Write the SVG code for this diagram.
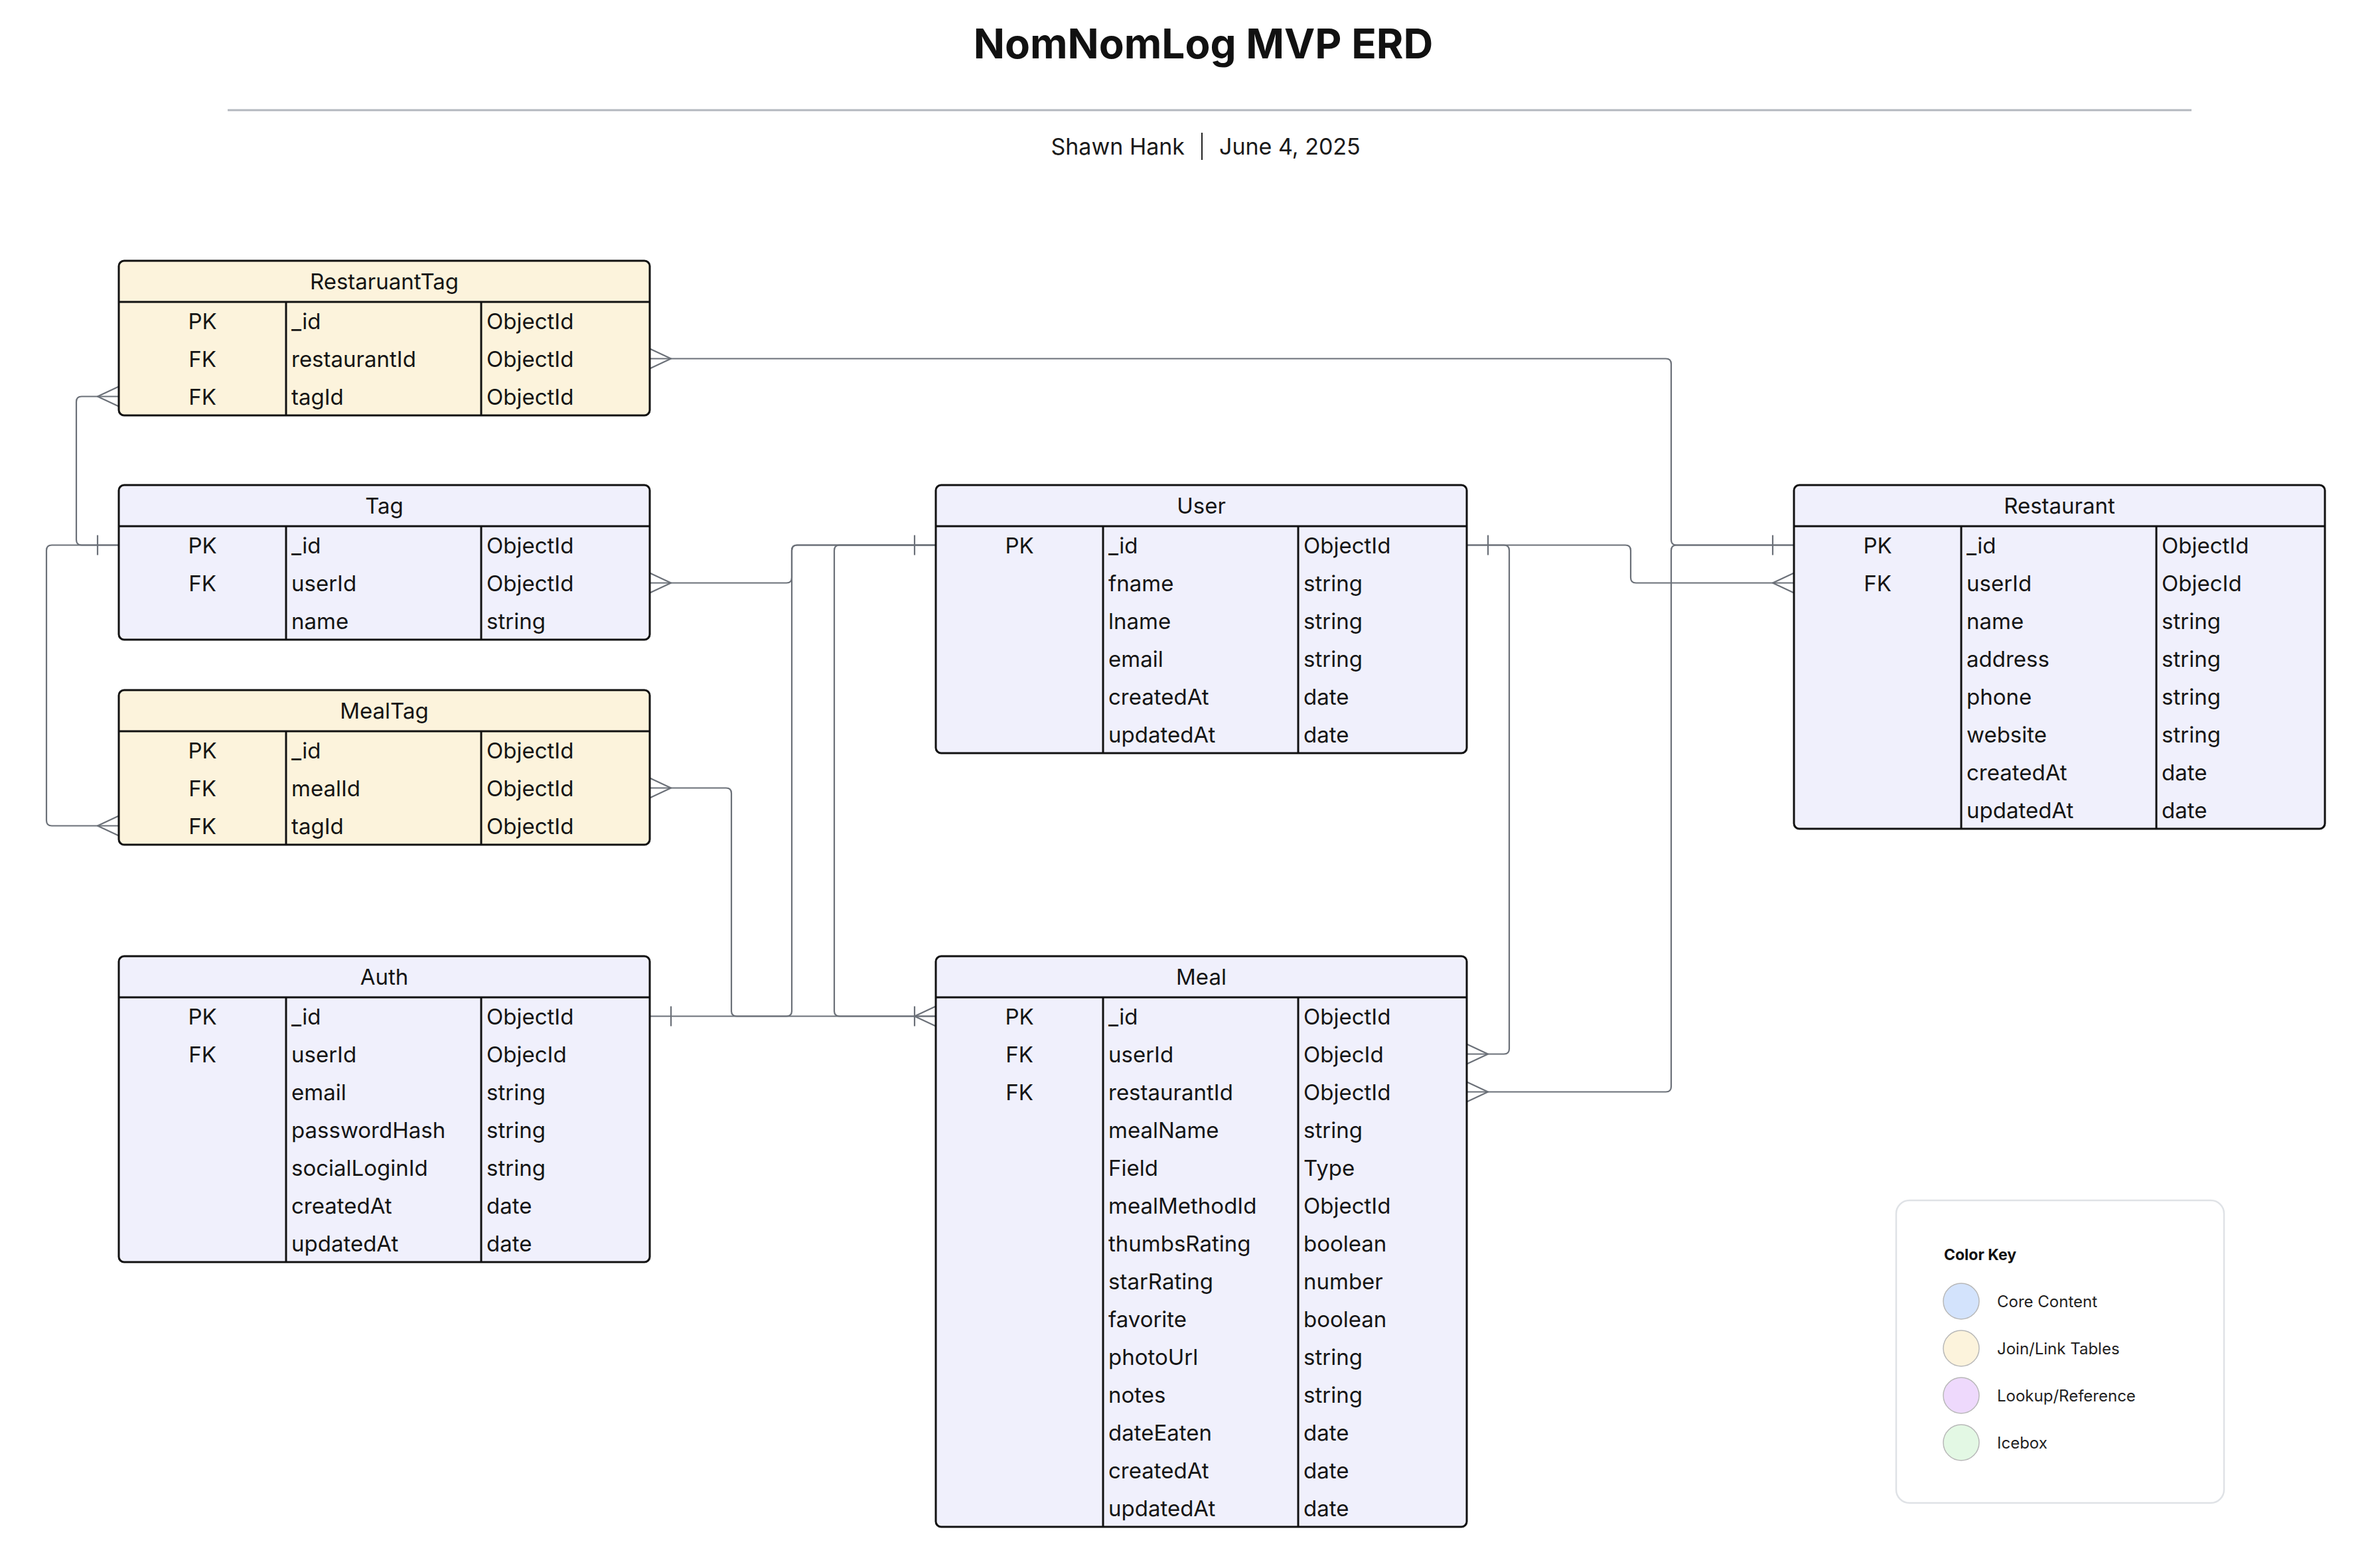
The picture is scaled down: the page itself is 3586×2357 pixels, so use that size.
<svg xmlns="http://www.w3.org/2000/svg" width="3586" height="2357" viewBox="0 0 3586 2357">
<style>
.bg{fill:#ffffff}
.title{font-family:Inter,"Liberation Sans",Arial,sans-serif;font-size:62px;font-weight:700;fill:#111111}
.sub{font-family:Inter,"Liberation Sans",Arial,sans-serif;font-size:34px;fill:#1a1a1a}
.t{font-family:Inter,"Liberation Sans",Arial,sans-serif;font-size:33px;fill:#151515}
.mid{text-anchor:middle}
.box{stroke:#111111;stroke-width:3}
.core{fill:#f0f0fc}
.join{fill:#fcf3dc}
.div{stroke:#111111;stroke-width:3}
.conn path{fill:none;stroke:#6b7078;stroke-width:2.2;stroke-linejoin:round}
.key-title{font-family:Inter,"Liberation Sans",Arial,sans-serif;font-size:23px;font-weight:700;fill:#111111}
.key-t{font-family:Inter,"Liberation Sans",Arial,sans-serif;font-size:24px;fill:#1f1f1f}
.dot{stroke:#b8b8b8;stroke-width:1.5}
</style>
<rect class="bg" x="0" y="0" width="3586" height="2357"/>

<g id="header">
<text class="title mid" x="1813" y="88">NomNomLog MVP ERD</text>
<line x1="343" y1="166" x2="3302" y2="166" stroke="#b3b8bf" stroke-width="3"/>
<text class="sub" x="1785" y="233" text-anchor="end">Shawn Hank</text>
<line x1="1811" y1="200" x2="1811" y2="241" stroke="#222222" stroke-width="2"/>
<text class="sub" x="1837" y="233">June 4, 2025</text>
</g>

<g id="connectors" class="conn">
<path d="M979,540.5 H2510 Q2518,540.5 2518,548.5 V813.5 Q2518,821.5 2526,821.5 H2703"/>
<path d="M2210,1645.5 H2510 Q2518,1645.5 2518,1637.5 V829.5 Q2518,821.5 2526,821.5 H2703"/>
<path d="M2210,821.5 H2449 Q2457,821.5 2457,829.5 V870.5 Q2457,878.5 2465,878.5 H2703"/>
<path d="M2210,821.5 H2266 Q2274,821.5 2274,829.5 V1580.5 Q2274,1588.5 2266,1588.5 H2210"/>
<path d="M979,878.5 H1185 Q1193,878.5 1193,870.5 V829.5 Q1193,821.5 1201,821.5 H1410"/>
<path d="M979,1531.5 H1185 Q1193,1531.5 1193,1523.5 V829.5 Q1193,821.5 1201,821.5 H1410"/>
<path d="M1410,821.5 H1265 Q1257,821.5 1257,829.5 V1523.5 Q1257,1531.5 1265,1531.5 H1410"/>
<path d="M979,1187.5 H1094 Q1102,1187.5 1102,1195.5 V1523.5 Q1102,1531.5 1110,1531.5 H1410"/>
<path d="M179,597.5 H123 Q115,597.5 115,605.5 V813.5 Q115,821.5 123,821.5 H179"/>
<path d="M179,1244.5 H78 Q70,1244.5 70,1236.5 V829.5 Q70,821.5 78,821.5 H179"/>
<!-- crow's feet -->
<path d="M979,525.5 L1011,540.5 L979,555.5"/>
<path d="M2210,1630.5 L2242,1645.5 L2210,1660.5"/>
<path d="M2703,863.5 L2671,878.5 L2703,893.5"/>
<path d="M2210,1573.5 L2242,1588.5 L2210,1603.5"/>
<path d="M979,863.5 L1011,878.5 L979,893.5"/>
<path d="M1410,1516.5 L1378,1531.5 L1410,1546.5"/>
<path d="M979,1172.5 L1011,1187.5 L979,1202.5"/>
<path d="M179,582.5 L147,597.5 L179,612.5"/>
<path d="M179,1229.5 L147,1244.5 L179,1259.5"/>
<!-- one bars -->
<path d="M2671,806.5 V836.5"/>
<path d="M2242,806.5 V836.5"/>
<path d="M1378,806.5 V836.5"/>
<path d="M1011,1516.5 V1546.5"/>
<path d="M1378,1516.5 V1546.5"/>
<path d="M147,806.5 V836.5"/>
</g>

<g id="RestaruantTag" transform="translate(179,393)">
<rect class="box join" x="0" y="0" width="800" height="233" rx="8"/>
<line class="div" x1="0" y1="62" x2="800" y2="62"/>
<line class="div" x1="252" y1="62" x2="252" y2="233"/>
<line class="div" x1="546" y1="62" x2="546" y2="233"/>
<text class="t mid" x="400" y="43">RestaruantTag</text>
<text class="t mid" x="126" y="102.5">PK</text><text class="t" x="260" y="102.5">_id</text><text class="t" x="554" y="102.5">ObjectId</text>
<text class="t mid" x="126" y="159.5">FK</text><text class="t" x="260" y="159.5">restaurantId</text><text class="t" x="554" y="159.5">ObjectId</text>
<text class="t mid" x="126" y="216.5">FK</text><text class="t" x="260" y="216.5">tagId</text><text class="t" x="554" y="216.5">ObjectId</text>
</g>

<g id="Tag" transform="translate(179,731)">
<rect class="box core" x="0" y="0" width="800" height="233" rx="8"/>
<line class="div" x1="0" y1="62" x2="800" y2="62"/>
<line class="div" x1="252" y1="62" x2="252" y2="233"/>
<line class="div" x1="546" y1="62" x2="546" y2="233"/>
<text class="t mid" x="400" y="43">Tag</text>
<text class="t mid" x="126" y="102.5">PK</text><text class="t" x="260" y="102.5">_id</text><text class="t" x="554" y="102.5">ObjectId</text>
<text class="t mid" x="126" y="159.5">FK</text><text class="t" x="260" y="159.5">userId</text><text class="t" x="554" y="159.5">ObjectId</text>
<text class="t" x="260" y="216.5">name</text><text class="t" x="554" y="216.5">string</text>
</g>

<g id="MealTag" transform="translate(179,1040)">
<rect class="box join" x="0" y="0" width="800" height="233" rx="8"/>
<line class="div" x1="0" y1="62" x2="800" y2="62"/>
<line class="div" x1="252" y1="62" x2="252" y2="233"/>
<line class="div" x1="546" y1="62" x2="546" y2="233"/>
<text class="t mid" x="400" y="43">MealTag</text>
<text class="t mid" x="126" y="102.5">PK</text><text class="t" x="260" y="102.5">_id</text><text class="t" x="554" y="102.5">ObjectId</text>
<text class="t mid" x="126" y="159.5">FK</text><text class="t" x="260" y="159.5">mealId</text><text class="t" x="554" y="159.5">ObjectId</text>
<text class="t mid" x="126" y="216.5">FK</text><text class="t" x="260" y="216.5">tagId</text><text class="t" x="554" y="216.5">ObjectId</text>
</g>

<g id="Auth" transform="translate(179,1441)">
<rect class="box core" x="0" y="0" width="800" height="461" rx="8"/>
<line class="div" x1="0" y1="62" x2="800" y2="62"/>
<line class="div" x1="252" y1="62" x2="252" y2="461"/>
<line class="div" x1="546" y1="62" x2="546" y2="461"/>
<text class="t mid" x="400" y="43">Auth</text>
<text class="t mid" x="126" y="102.5">PK</text><text class="t" x="260" y="102.5">_id</text><text class="t" x="554" y="102.5">ObjectId</text>
<text class="t mid" x="126" y="159.5">FK</text><text class="t" x="260" y="159.5">userId</text><text class="t" x="554" y="159.5">ObjecId</text>
<text class="t" x="260" y="216.5">email</text><text class="t" x="554" y="216.5">string</text>
<text class="t" x="260" y="273.5">passwordHash</text><text class="t" x="554" y="273.5">string</text>
<text class="t" x="260" y="330.5">socialLoginId</text><text class="t" x="554" y="330.5">string</text>
<text class="t" x="260" y="387.5">createdAt</text><text class="t" x="554" y="387.5">date</text>
<text class="t" x="260" y="444.5">updatedAt</text><text class="t" x="554" y="444.5">date</text>
</g>

<g id="User" transform="translate(1410,731)">
<rect class="box core" x="0" y="0" width="800" height="404" rx="8"/>
<line class="div" x1="0" y1="62" x2="800" y2="62"/>
<line class="div" x1="252" y1="62" x2="252" y2="404"/>
<line class="div" x1="546" y1="62" x2="546" y2="404"/>
<text class="t mid" x="400" y="43">User</text>
<text class="t mid" x="126" y="102.5">PK</text><text class="t" x="260" y="102.5">_id</text><text class="t" x="554" y="102.5">ObjectId</text>
<text class="t" x="260" y="159.5">fname</text><text class="t" x="554" y="159.5">string</text>
<text class="t" x="260" y="216.5">lname</text><text class="t" x="554" y="216.5">string</text>
<text class="t" x="260" y="273.5">email</text><text class="t" x="554" y="273.5">string</text>
<text class="t" x="260" y="330.5">createdAt</text><text class="t" x="554" y="330.5">date</text>
<text class="t" x="260" y="387.5">updatedAt</text><text class="t" x="554" y="387.5">date</text>
</g>

<g id="Meal" transform="translate(1410,1441)">
<rect class="box core" x="0" y="0" width="800" height="860" rx="8"/>
<line class="div" x1="0" y1="62" x2="800" y2="62"/>
<line class="div" x1="252" y1="62" x2="252" y2="860"/>
<line class="div" x1="546" y1="62" x2="546" y2="860"/>
<text class="t mid" x="400" y="43">Meal</text>
<text class="t mid" x="126" y="102.5">PK</text><text class="t" x="260" y="102.5">_id</text><text class="t" x="554" y="102.5">ObjectId</text>
<text class="t mid" x="126" y="159.5">FK</text><text class="t" x="260" y="159.5">userId</text><text class="t" x="554" y="159.5">ObjecId</text>
<text class="t mid" x="126" y="216.5">FK</text><text class="t" x="260" y="216.5">restaurantId</text><text class="t" x="554" y="216.5">ObjectId</text>
<text class="t" x="260" y="273.5">mealName</text><text class="t" x="554" y="273.5">string</text>
<text class="t" x="260" y="330.5">Field</text><text class="t" x="554" y="330.5">Type</text>
<text class="t" x="260" y="387.5">mealMethodId</text><text class="t" x="554" y="387.5">ObjectId</text>
<text class="t" x="260" y="444.5">thumbsRating</text><text class="t" x="554" y="444.5">boolean</text>
<text class="t" x="260" y="501.5">starRating</text><text class="t" x="554" y="501.5">number</text>
<text class="t" x="260" y="558.5">favorite</text><text class="t" x="554" y="558.5">boolean</text>
<text class="t" x="260" y="615.5">photoUrl</text><text class="t" x="554" y="615.5">string</text>
<text class="t" x="260" y="672.5">notes</text><text class="t" x="554" y="672.5">string</text>
<text class="t" x="260" y="729.5">dateEaten</text><text class="t" x="554" y="729.5">date</text>
<text class="t" x="260" y="786.5">createdAt</text><text class="t" x="554" y="786.5">date</text>
<text class="t" x="260" y="843.5">updatedAt</text><text class="t" x="554" y="843.5">date</text>
</g>

<g id="Restaurant" transform="translate(2703,731)">
<rect class="box core" x="0" y="0" width="800" height="518" rx="8"/>
<line class="div" x1="0" y1="62" x2="800" y2="62"/>
<line class="div" x1="252" y1="62" x2="252" y2="518"/>
<line class="div" x1="546" y1="62" x2="546" y2="518"/>
<text class="t mid" x="400" y="43">Restaurant</text>
<text class="t mid" x="126" y="102.5">PK</text><text class="t" x="260" y="102.5">_id</text><text class="t" x="554" y="102.5">ObjectId</text>
<text class="t mid" x="126" y="159.5">FK</text><text class="t" x="260" y="159.5">userId</text><text class="t" x="554" y="159.5">ObjecId</text>
<text class="t" x="260" y="216.5">name</text><text class="t" x="554" y="216.5">string</text>
<text class="t" x="260" y="273.5">address</text><text class="t" x="554" y="273.5">string</text>
<text class="t" x="260" y="330.5">phone</text><text class="t" x="554" y="330.5">string</text>
<text class="t" x="260" y="387.5">website</text><text class="t" x="554" y="387.5">string</text>
<text class="t" x="260" y="444.5">createdAt</text><text class="t" x="554" y="444.5">date</text>
<text class="t" x="260" y="501.5">updatedAt</text><text class="t" x="554" y="501.5">date</text>
</g>

<g id="ColorKey">
<rect x="2857" y="1809" width="494" height="456" rx="20" fill="#ffffff" stroke="#dfe2e6" stroke-width="2.5"/>
<text class="key-title" x="2929" y="1899">Color Key</text>
<circle class="dot" cx="2955" cy="1961" r="27" fill="#d3e3fc"/>
<text class="key-t" x="3009" y="1970">Core Content</text>
<circle class="dot" cx="2955" cy="2032" r="27" fill="#fcf3dc"/>
<text class="key-t" x="3009" y="2041">Join/Link Tables</text>
<circle class="dot" cx="2955" cy="2103" r="27" fill="#eed9fc"/>
<text class="key-t" x="3009" y="2112">Lookup/Reference</text>
<circle class="dot" cx="2955" cy="2174" r="27" fill="#e3f8e4"/>
<text class="key-t" x="3009" y="2183">Icebox</text>
</g>
</svg>
